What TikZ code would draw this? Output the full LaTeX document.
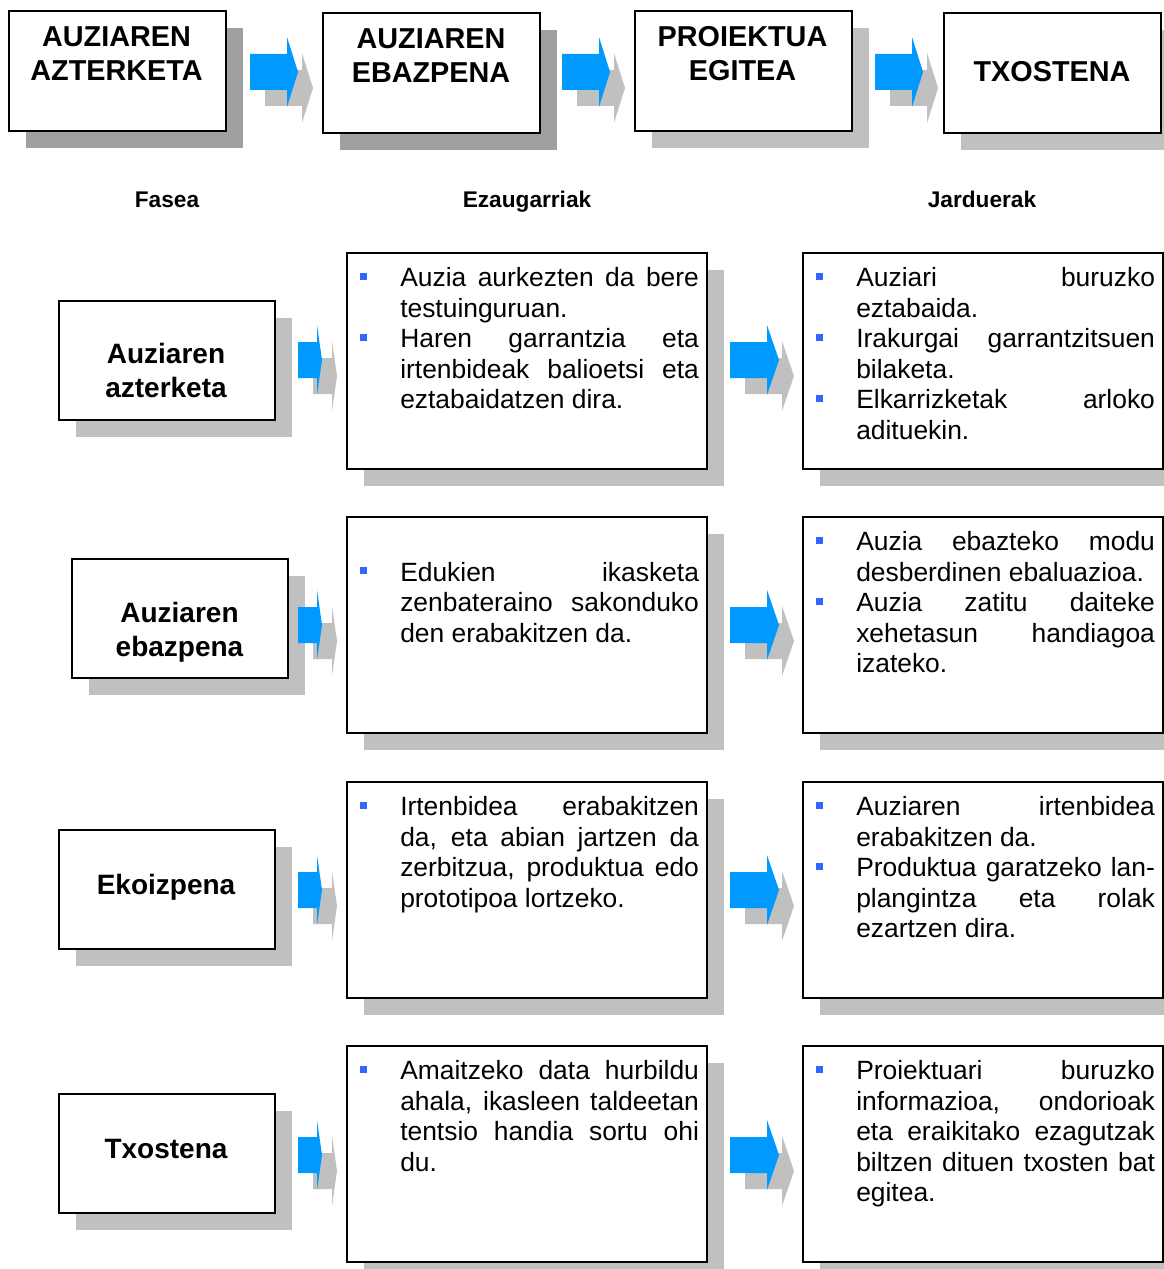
\documentclass[tikz,border=0pt]{standalone}
\usepackage{fontspec}
\setmainfont{Liberation Sans}
\usetikzlibrary{shadows}

\definecolor{arrowblue}{RGB}{0,153,255}
\definecolor{arrowgray}{RGB}{192,192,192}
\definecolor{shadowdark}{RGB}{160,160,160}
\definecolor{shadowlight}{RGB}{192,192,192}
\definecolor{bulletblue}{RGB}{51,102,255}

% small blue square in front of each item
\newcommand{\bul}{\leavevmode\llap{\textcolor{bulletblue}{\rule[5.2pt]{5.25pt}{5.25pt}}\hspace{24.75pt}}}

% block arrow with grey copy: x, y (centre), shaft length, head length
\newcommand{\blockarrow}[4]{%
  \fill[arrowgray] (#1+15,#2+16-18) -- ++(#3,0) -- ++(0,-17) -- ++(#4,35) -- ++(-#4,35) -- ++(0,-17) -- ++(-#3,0) -- cycle;
  \fill[arrowblue] (#1,#2-18) -- ++(#3,0) -- ++(0,-17) -- ++(#4,35) -- ++(-#4,35) -- ++(0,-17) -- ++(-#3,0) -- cycle;
}

\tikzset{
  darkshadow/.style={general shadow={fill=shadowdark, shadow xshift=12.75pt, shadow yshift=-12.75pt}},
  lightshadow/.style={general shadow={fill=shadowlight, shadow xshift=12.75pt, shadow yshift=-12.75pt}},
  topbox/.style={draw, line width=1.8pt, fill=white, minimum width=162.75pt, minimum height=90pt, anchor=north west, inner sep=0pt},
  fasebox/.style={draw, line width=1.2pt, fill=white, minimum width=162pt, minimum height=89.25pt, anchor=north west, inner sep=0pt, lightshadow},
  infobox/.style={draw, line width=1.2pt, fill=white, minimum width=270pt, minimum height=162pt, anchor=north west, inner sep=0pt, lightshadow},
  toptext/.style={align=center, inner sep=0pt, anchor=base, font=\fontsize{21.6}{25.5}\selectfont\bfseries},
  fasetext/.style={align=center, inner sep=0pt, anchor=base, font=\fontsize{21}{25}\selectfont\bfseries},
  headtext/.style={inner sep=0pt, anchor=base, font=\fontsize{17}{20}\selectfont\bfseries},
  infotext/.style={text width=224pt, align=justify, inner sep=0pt, anchor=base west,
    font={\fontsize{19.8}{22.9}\selectfont\tolerance=10000 \hbadness=10000 \hyphenpenalty=10000 }},
}

\begin{document}
\begin{tikzpicture}[x=0.75pt,y=-0.75pt]
    \useasboundingbox (0,0) rectangle (1163,1269);

    % Phases along the top
    \node[topbox, darkshadow] (b1) at (8,10) {};
    \node[topbox, darkshadow] (b2) at (322,12) {};
    \node[topbox, lightshadow] (b3) at (634,10) {};
    \node[topbox, lightshadow] (b4) at (943,12) {};

    \node[toptext] (b1t) at (116.5,80.5) {AUZIAREN\\AZTERKETA};
    \node[toptext] (b2t) at (431,82.5) {AUZIAREN\\EBAZPENA};
    \node[toptext] (b3t) at (742.5,80.5) {PROIEKTUA\\EGITEA};
    \node[toptext] (b4t) at (1052,82) {TXOSTENA};

    \blockarrow{250}{72}{37}{11}
    \blockarrow{562}{72}{37}{11}
    \blockarrow{875}{72}{37}{11}

    % Column titles
    \node[headtext] (hfase) at (167,208) {Fasea};
    \node[headtext] (hezaug) at (527,208) {Ezaugarriak};
    \node[headtext] (hjard) at (982,208) {Jarduerak};

    % Row 1
    \node[fasebox] (f1) at (58,300) {};
    \node[fasetext] (f1t) at (166,397) {Auziaren\\azterketa};
    \node[infobox] (e1) at (346,252) {};
    \node[infobox] (j1) at (802,252) {};
    \node[infotext] (e1t) at (400,286.5) {\bul Auzia aurkezten da bere\linebreak testuinguruan.\par
      \bul Haren garrantzia eta\linebreak irtenbideak balioetsi eta\linebreak eztabaidatzen dira.};
    \node[infotext] (j1t) at (856,286.5) {\bul Auziari buruzko\linebreak eztabaida.\par
      \bul Irakurgai garrantzitsuen\linebreak bilaketa.\par
      \bul Elkarrizketak arloko\linebreak adituekin.};
    \blockarrow{298}{360}{19}{5}
    \blockarrow{730}{360}{37}{12}

    % Row 2
    \node[fasebox] (f2) at (71,558) {};
    \node[fasetext] (f2t) at (179.5,656) {Auziaren\\ebazpena};
    \node[infobox] (e2) at (346,516) {};
    \node[infobox] (j2) at (802,516) {};
    \node[infotext] (e2t) at (400,581) {\bul Edukien ikasketa\linebreak zenbateraino sakonduko\linebreak den erabakitzen da.};
    \node[infotext] (j2t) at (856,550.5) {\bul Auzia ebazteko modu\linebreak desberdinen ebaluazioa.\par
      \bul Auzia zatitu daiteke\linebreak xehetasun handiagoa\linebreak izateko.};
    \blockarrow{298}{625}{19}{5}
    \blockarrow{730}{625}{37}{12}

    % Row 3
    \node[fasebox] (f3) at (58,829) {};
    \node[fasetext] (f3t) at (166,894) {Ekoizpena};
    \node[infobox] (e3) at (346,781) {};
    \node[infobox] (j3) at (802,781) {};
    \node[infotext] (e3t) at (400,815.5) {\bul Irtenbidea erabakitzen\linebreak da, eta abian jartzen da\linebreak zerbitzua, produktua edo\linebreak prototipoa lortzeko.};
    \node[infotext] (j3t) at (856,815.5) {\bul Auziaren irtenbidea\linebreak erabakitzen da.\par
      \bul Produktua garatzeko lan-\linebreak plangintza eta rolak\linebreak ezartzen dira.};
    \blockarrow{298}{890}{19}{5}
    \blockarrow{730}{890}{37}{12}

    % Row 4
    \node[fasebox] (f4) at (58,1093) {};
    \node[fasetext] (f4t) at (166,1158) {Txostena};
    \node[infobox] (e4) at (346,1045) {};
    \node[infobox] (j4) at (802,1045) {};
    \node[infotext] (e4t) at (400,1079.5) {\bul Amaitzeko data hurbildu\linebreak ahala, ikasleen taldeetan\linebreak tentsio handia sortu ohi\linebreak du.};
    \node[infotext] (j4t) at (856,1079.5) {\bul Proiektuari buruzko\linebreak informazioa, ondorioak\linebreak eta eraikitako ezagutzak\linebreak biltzen dituen txosten bat\linebreak egitea.};
    \blockarrow{298}{1155}{19}{5}
    \blockarrow{730}{1155}{37}{12}

\end{tikzpicture}
\end{document}
